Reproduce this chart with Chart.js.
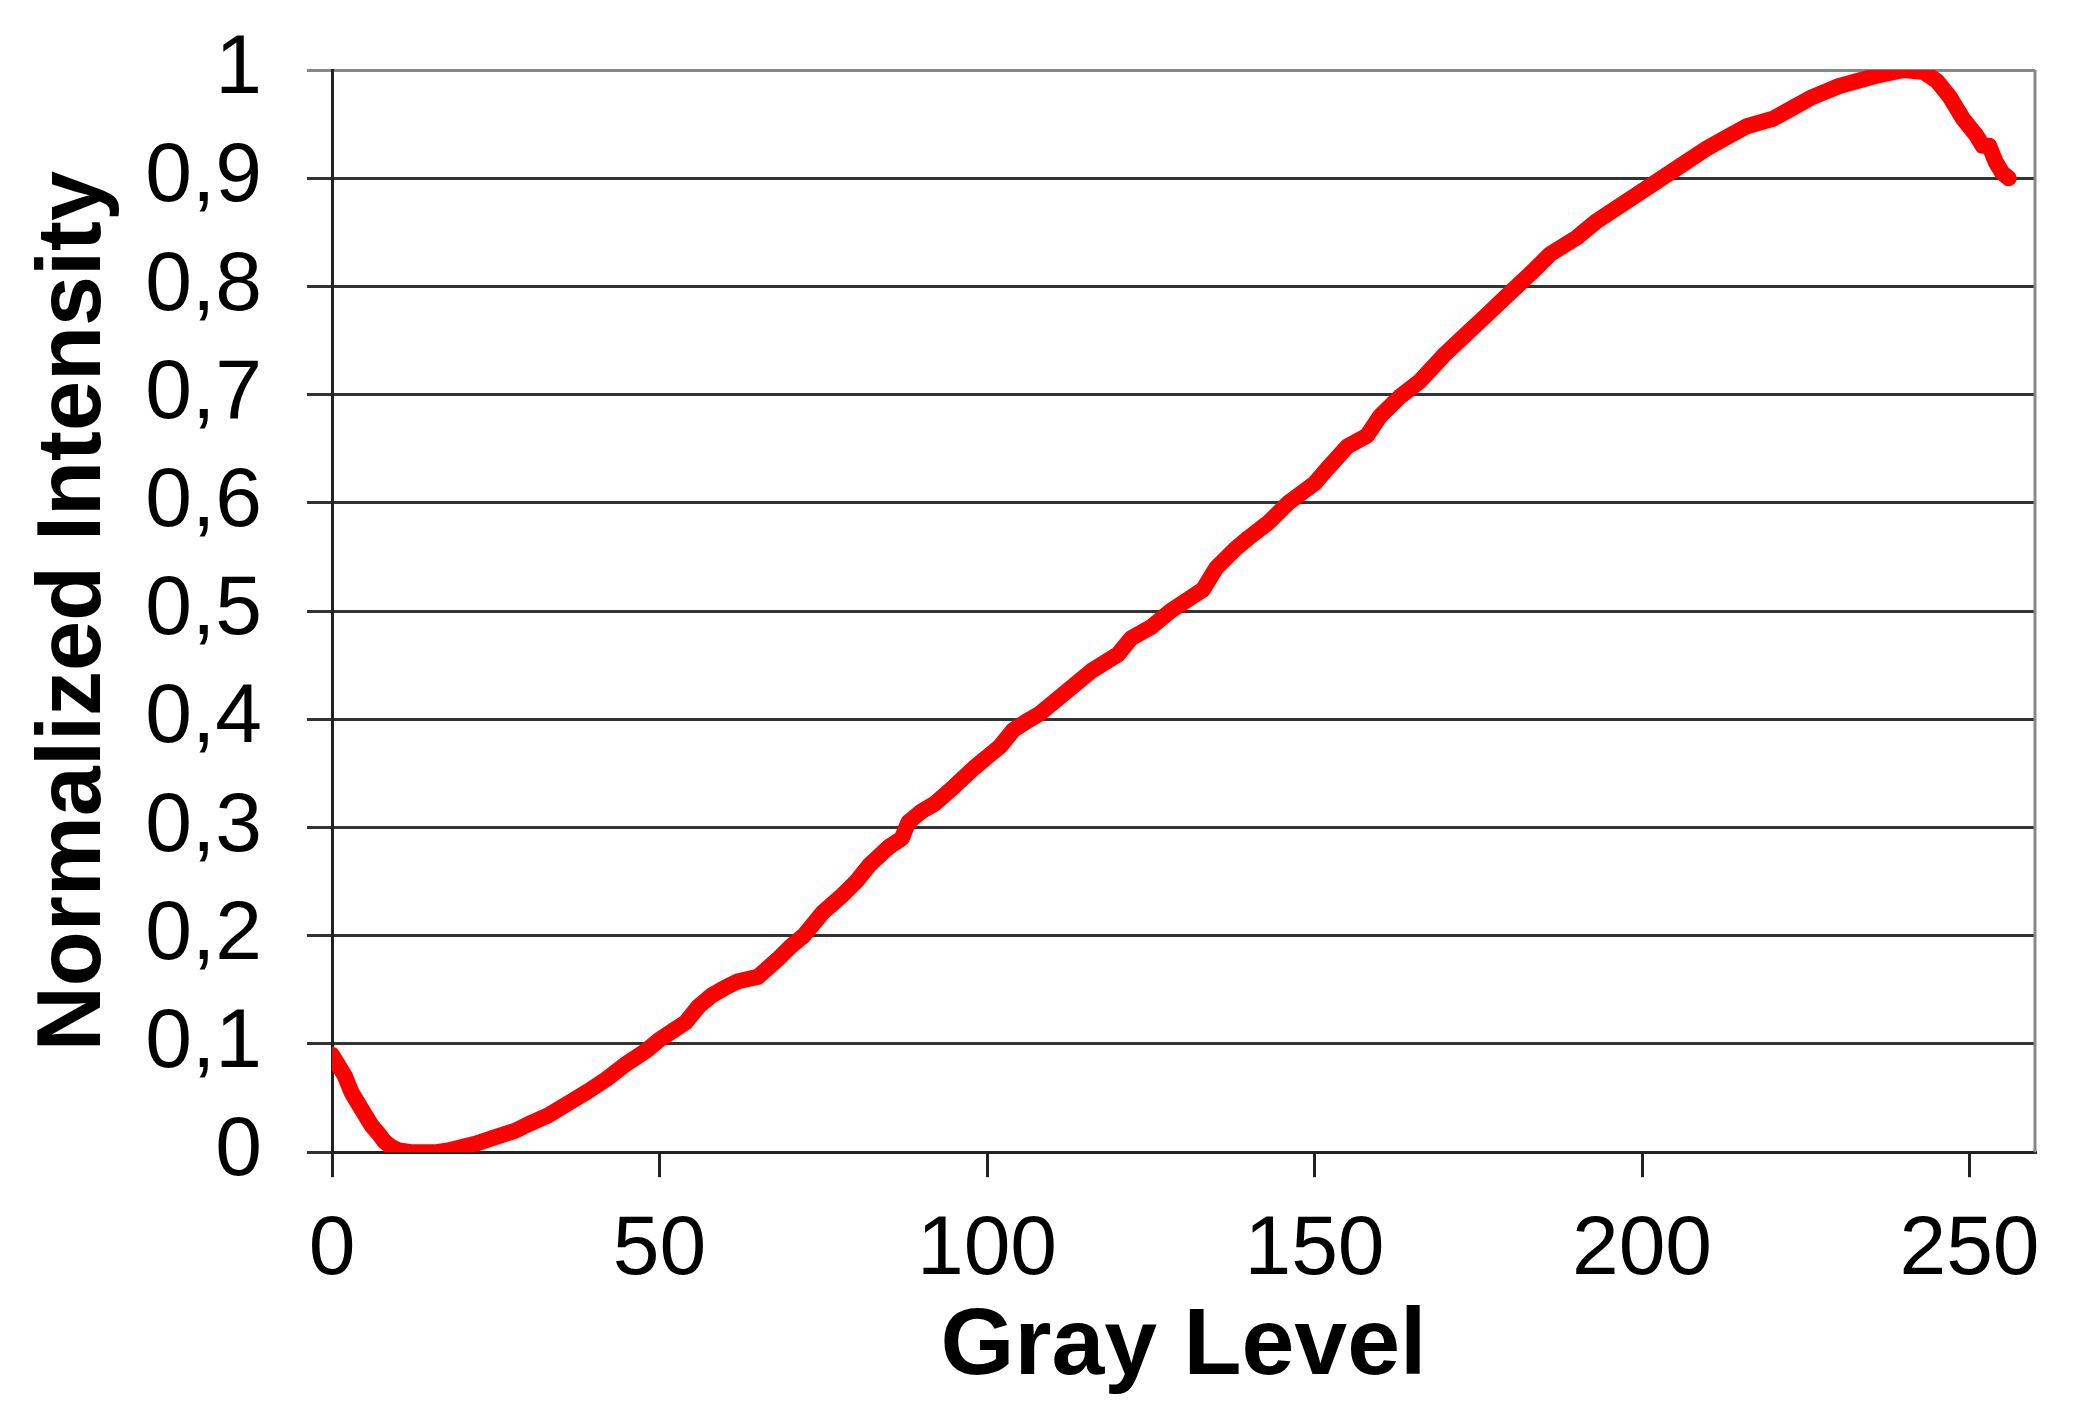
<!DOCTYPE html>
<html>
<head>
<meta charset="utf-8">
<script src="https://cdn.jsdelivr.net/npm/chart.js@4/dist/chart.umd.min.js"></script>
<style>
  html, body { margin: 0; padding: 0; background: #fff; }
  #wrap { width: 2082px; height: 1410px; }
</style>
</head>
<body>
<div id="wrap"><canvas id="chart" width="2082" height="1410"></canvas></div>
<script>
// values
const grayLevels = [0, 1, 2, 3, 4, 5, 6, 7, 8, 9, 10, 12, 14, 16, 18, 20, 22, 24, 26, 28,
  30, 33, 36, 39, 42, 45, 48, 50, 52, 54, 56, 58, 60, 62, 65, 68, 70, 72, 75, 78,
  80, 82, 85, 87, 88, 90, 92, 95, 98, 100, 102, 104, 106, 108, 110, 113, 116, 120, 122, 125,
  128, 130, 133, 135, 138, 140, 143, 146, 150, 152, 155, 158, 160, 163, 166, 170, 173, 176, 180, 183,
  186, 190, 193, 196, 200, 203, 206, 210, 213, 216, 220, 223, 226, 230, 233, 236, 240, 243, 245, 247,
  249, 251, 252, 253, 254, 255, 256];
const intensity = [0.09, 0.08, 0.07, 0.055, 0.045, 0.035, 0.025, 0.018, 0.01, 0.005, 0.002, 0, 0, 0, 0.002, 0.005, 0.008, 0.012, 0.016, 0.02,
  0.026, 0.034, 0.045, 0.056, 0.068, 0.082, 0.094, 0.104, 0.112, 0.12, 0.135, 0.145, 0.152, 0.158, 0.162, 0.178, 0.19, 0.2, 0.222, 0.238,
  0.25, 0.265, 0.282, 0.29, 0.305, 0.315, 0.322, 0.338, 0.355, 0.365, 0.375, 0.39, 0.398, 0.405, 0.415, 0.43, 0.445, 0.46, 0.475, 0.485,
  0.5, 0.508, 0.52, 0.54, 0.558, 0.568, 0.582, 0.6, 0.618, 0.632, 0.652, 0.662, 0.68, 0.698, 0.712, 0.738, 0.755, 0.772, 0.795, 0.812,
  0.83, 0.845, 0.86, 0.872, 0.888, 0.9, 0.912, 0.928, 0.938, 0.948, 0.955, 0.965, 0.975, 0.985, 0.99, 0.995, 1.0, 0.998, 0.99, 0.975,
  0.955, 0.94, 0.93, 0.93, 0.915, 0.905, 0.9];
const xTicks = [0, 50, 100, 150, 200, 250];
const yTicks = [0, 0.1, 0.2, 0.3, 0.4, 0.5, 0.6, 0.7, 0.8, 0.9, 1];

const tickFont = { family: "'Liberation Sans', Arial, sans-serif", size: 84 };
const xTitleFont = { family: "'Liberation Sans', Arial, sans-serif", size: 95, weight: "bold" };
const yTitleFont = { family: "'Liberation Sans', Arial, sans-serif", size: 90, weight: "bold" };

// right border of the plot box
const frameRight = {
  id: "frameRight",
  afterDraw(chart) {
    const { ctx, chartArea } = chart;
    ctx.save();
    ctx.strokeStyle = "#888";
    ctx.lineWidth = 3;
    ctx.beginPath();
    ctx.moveTo(chartArea.right, chartArea.top);
    ctx.lineTo(chartArea.right, chartArea.bottom);
    ctx.stroke();
    ctx.restore();
  },
};

new Chart(document.getElementById("chart"), {
  type: "line",
  data: {
    datasets: [{
      data: grayLevels.map((g, i) => ({ x: g, y: intensity[i] })),
      borderColor: "#ff0000",
      borderWidth: 16,
      borderJoinStyle: "round",
      borderCapStyle: "round",
      pointRadius: 0,
      tension: 0,
      fill: false,
    }],
  },
  options: {
    responsive: false,
    animation: false,
    layout: { padding: { left: 21, right: 47, top: 0, bottom: 5 } },
    plugins: { legend: { display: false }, tooltip: { enabled: false } },
    scales: {
      x: {
        type: "linear",
        min: 0,
        max: 260,
        afterBuildTicks: (scale) => { scale.ticks = xTicks.map((v) => ({ value: v })); },
        ticks: { font: tickFont, color: "#000", padding: 23, maxRotation: 0, autoSkip: false },
        grid: { drawOnChartArea: false, drawTicks: true, tickLength: 25, color: "#222", lineWidth: 3 },
        border: { color: "#222", width: 3 },
        title: { display: true, text: "Gray Level", font: xTitleFont, color: "#000", padding: { top: -33, bottom: 0 } },
      },
      y: {
        min: 0,
        max: 1,
        afterBuildTicks: (scale) => { scale.ticks = yTicks.map((v) => ({ value: v })); },
        afterFit: (scale) => {
          scale.width = 311;
          scale.paddingTop = 70;
          scale.paddingBottom = 0;
        },
        ticks: {
          font: tickFont,
          color: "#000",
          padding: 45,
          autoSkip: false,
          callback: (v) => String(Math.round(v * 10) / 10).replace(".", ","),
        },
        grid: {
          color: (c) => (c.tick && c.tick.value === 1 ? "#888" : "#333"),
          lineWidth: 3,
          tickLength: 25,
        },
        border: { color: "#222", width: 3 },
        title: { display: true, text: "Normalized Intensity", font: yTitleFont, color: "#000", padding: { top: 0, bottom: 0 } },
      },
    },
  },
  plugins: [frameRight],
});
</script>
</body>
</html>
